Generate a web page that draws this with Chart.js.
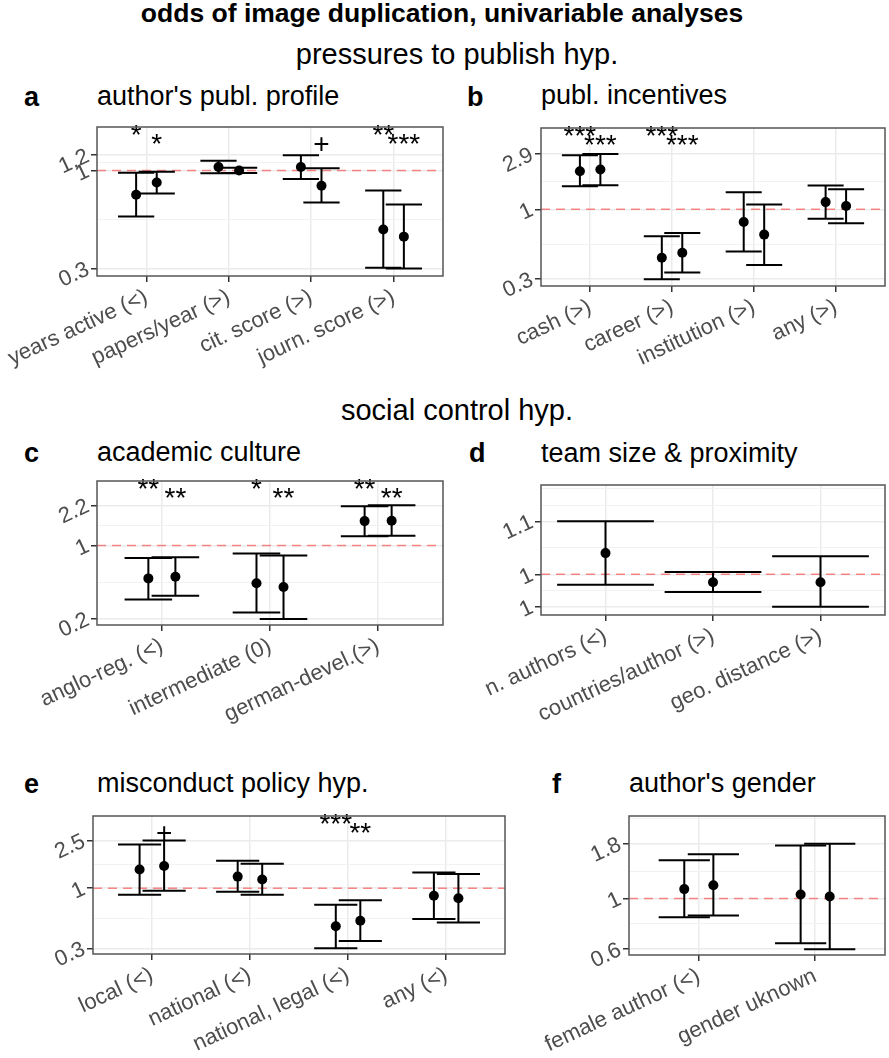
<!DOCTYPE html>
<html>
<head>
<meta charset="utf-8">
<script src="https://cdn.jsdelivr.net/npm/chart.js@4.4.1/dist/chart.umd.min.js"></script>
<style>
  body { margin: 0; background: #fff; width: 889px; height: 1058px; position: relative; overflow: hidden;
         font-family: "Liberation Sans", Arial, sans-serif; }
  .t { position: absolute; white-space: nowrap; color: #000; line-height: 1; }
  .ttl { font-size: 27px; }
  .lab { font-size: 27px; font-weight: bold; }
  .sub { left: 0; width: 914px; text-align: center; font-size: 29px; }
  canvas { position: absolute; }
</style>
</head>
<body>
<div class="t" style="left:0;width:884px;text-align:center;top:0px;font-size:26.5px;font-weight:bold">odds of image duplication, univariable analyses</div>
<div class="t sub" style="top:40px">pressures to publish hyp.</div>
<div class="t sub" style="top:396px">social control hyp.</div>

<div class="t lab" style="left:24px;top:84px">a</div>
<div class="t ttl" style="left:97px;top:83px">author's publ. profile</div>
<div class="t lab" style="left:467px;top:84px">b</div>
<div class="t ttl" style="left:541px;top:82px">publ. incentives</div>
<div class="t lab" style="left:24px;top:440px">c</div>
<div class="t ttl" style="left:97px;top:439px">academic culture</div>
<div class="t lab" style="left:469px;top:440px">d</div>
<div class="t ttl" style="left:541px;top:440px">team size &amp; proximity</div>
<div class="t lab" style="left:24px;top:771px">e</div>
<div class="t ttl" style="left:97px;top:770px">misconduct policy hyp.</div>
<div class="t lab" style="left:552px;top:771px">f</div>
<div class="t ttl" style="left:629px;top:770px">author's gender</div>

<canvas id="cA" width="448" height="260" style="left:0;top:122px"></canvas>
<canvas id="cB" width="440" height="269" style="left:450px;top:123px"></canvas>
<canvas id="cC" width="448" height="254" style="left:0;top:476px"></canvas>
<canvas id="cD" width="440" height="250" style="left:450px;top:480px"></canvas>
<canvas id="cE" width="510" height="247" style="left:0;top:811px"></canvas>
<canvas id="cF" width="360" height="247" style="left:530px;top:811px"></canvas>

<script>
const FONT = '"Liberation Sans", Arial, sans-serif';

// a: author's publication profile
const catsA = ["years active (<)", "papers/year (>)", "cit. score (>)", "journ. score (>)"];
const estA1 = [0.740, 1.045, 1.045, 0.482];
const loA1  = [0.566, 0.965, 0.901, 0.300];
const hiA1  = [0.972, 1.128, 1.208, 0.780];
const estA2 = [0.862, 1.000, 0.828, 0.441];
const loA2  = [0.752, 0.968, 0.672, 0.297];
const hiA2  = [0.984, 1.033, 1.028, 0.656];
const sigA1 = ["*", "", "", "**"];
const sigA2 = ["*", "", "+", "***"];

// b: publication incentives
const catsB = ["cash (>)", "career (>)", "institution (>)", "any (>)"];
const estB1 = [2.09, 0.391, 0.782, 1.149];
const loB1  = [1.56, 0.258, 0.441, 0.833];
const hiB1  = [2.85, 0.593, 1.388, 1.584];
const estB2 = [2.16, 0.430, 0.612, 1.065];
const loB2  = [1.59, 0.293, 0.340, 0.763];
const hiB2  = [2.92, 0.631, 1.099, 1.477];
const sigB1 = ["***", "***", "", ""];
const sigB2 = ["***", "***", "", ""];

// c: academic culture
const catsC = ["anglo-reg. (<)", "intermediate (0)", "german-devel.(>)"];
const estC1 = [0.520, 0.472, 1.618];
const loC1  = [0.343, 0.265, 1.197];
const hiC1  = [0.779, 0.852, 2.17];
const estC2 = [0.537, 0.438, 1.628];
const loC2  = [0.368, 0.233, 1.212];
const hiC2  = [0.789, 0.820, 2.21];
const sigC1 = ["**", "*", "**"];
const sigC2 = ["**", "**", "**"];

// d: team size & proximity
const catsD = ["n. authors (<)", "countries/author (>)", "geo. distance (>)"];
const estD1 = [1.027, 0.990, 0.990];
const loD1  = [0.987, 0.978, 0.960];
const hiD1  = [1.069, 1.003, 1.023];

// e: misconduct policy
const catsE = ["local (<)", "national (<)", "national, legal (<)", "any (<)"];
const estE1 = [1.432, 1.250, 0.482, 0.867];
const loE1  = [0.884, 0.934, 0.316, 0.555];
const hiE1  = [2.32, 1.693, 0.729, 1.354];
const estE2 = [1.533, 1.182, 0.535, 0.825];
const loE2  = [0.952, 0.884, 0.364, 0.519];
const hiE2  = [2.50, 1.601, 0.795, 1.313];
const sigE1 = ["", "", "***", ""];
const sigE2 = ["+", "", "**", ""];

// f: author's gender
const catsF = ["female author (<)", "gender uknown"];
const estF1 = [1.106, 1.043];
const loF1  = [0.817, 0.617];
const hiF1  = [1.508, 1.769];
const estF2 = [1.153, 1.021];
const loF2  = [0.832, 0.579];
const hiF2  = [1.61, 1.80];

// y axis ranges (odds ratio, log scale)
const limA = [0.271, 1.713];
const limB = [0.226, 4.83];
const limC = [0.2066, 3.58];
const limD = [0.953, 1.119];
const limE = [0.283, 4.0];
const limF = [0.544, 2.43];

const fmt = v => String(Math.round(v * 10) / 10);

const errPlugin = {
  id: 'errbars',
  beforeDatasetsDraw(chart) {
    const { ctx, chartArea: a, scales: { x, y } } = chart;
    ctx.save();
    // reference line at OR = 1
    const y1 = y.getPixelForValue(1);
    ctx.strokeStyle = 'rgba(255,0,0,0.45)';
    ctx.lineWidth = 1.5;
    ctx.setLineDash([9, 6]);
    ctx.beginPath(); ctx.moveTo(a.left, y1); ctx.lineTo(a.right, y1); ctx.stroke();
    ctx.setLineDash([]);
    ctx.strokeStyle = '#000';
    ctx.lineWidth = 2;
    chart.data.datasets.forEach(ds => {
      ds.data.forEach(p => {
        const px = x.getPixelForValue(p.x);
        const l = x.getPixelForValue(p.x - ds.cap), r = x.getPixelForValue(p.x + ds.cap);
        const yl = y.getPixelForValue(p.lo), yh = y.getPixelForValue(p.hi);
        ctx.beginPath();
        ctx.moveTo(l, yh); ctx.lineTo(r, yh);
        ctx.moveTo(px, yh); ctx.lineTo(px, yl);
        ctx.moveTo(l, yl); ctx.lineTo(r, yl);
        ctx.stroke();
      });
    });
    ctx.restore();
  },
  afterDatasetsDraw(chart) {
    const { ctx, chartArea: a, scales: { x } } = chart;
    ctx.save();
    ctx.fillStyle = '#000';
    ctx.font = '28px ' + FONT;
    ctx.textAlign = 'center';
    ctx.textBaseline = 'alphabetic';
    chart.data.datasets.forEach((ds, k) => {
      if (!ds.sig) return;
      ds.data.forEach((p, i) => {
        if (ds.sig[i]) ctx.fillText(ds.sig[i], x.getPixelForValue(p.x), a.top + (k === 0 ? 17 : 26));
      });
    });
    // panel border
    ctx.strokeStyle = '#555';
    ctx.lineWidth = 1.5;
    ctx.strokeRect(a.left, a.top, a.right - a.left, a.bottom - a.top);
    ctx.restore();
  }
};

function buildTicks(series, lim) {
  const allLo = series.flatMap(s => s.lo), allHi = series.flatMap(s => s.hi);
  const majors = [Math.min(...allLo), 1, Math.max(...allHi)];
  const lb = majors.map(Math.log10);
  const bd = lb[1] - lb[0];
  const ext = lb.slice();
  if (Math.log10(lim[0]) < lb[0]) ext.unshift(lb[0] - bd);
  if (Math.log10(lim[1]) > lb[2]) ext.push(lb[2] + bd);
  const minors = [];
  for (let i = 0; i < ext.length - 1; i++) minors.push((ext[i] + ext[i + 1]) / 2);
  ext.forEach(v => { if (!lb.includes(v)) minors.push(v); });
  const ticks = majors.map(v => ({ value: v, minor: false }));
  minors.map(v => Math.pow(10, v)).filter(v => v > lim[0] && v < lim[1])
    .forEach(v => ticks.push({ value: v, minor: true }));
  return ticks.sort((p, q) => p.value - q.value);
}

function panel(id, cats, series, sigs, lim, yw, xh) {
  const offs = series.length === 2 ? [-0.125, 0.125] : [0];
  const cap = series.length === 2 ? 0.22 : 0.45;
  const datasets = series.map((s, k) => ({
    data: s.est.map((v, i) => ({ x: i + 1 + offs[k], y: v, lo: s.lo[i], hi: s.hi[i] })),
    cap: cap,
    sig: sigs ? sigs[k] : null,
    backgroundColor: '#000',
    borderWidth: 0,
    pointRadius: 5,
    pointHoverRadius: 5
  }));
  const yTicks = buildTicks(series, lim);
  const tickFont = { family: FONT, size: 22 };
  new Chart(document.getElementById(id), {
    type: 'scatter',
    data: { datasets },
    options: {
      responsive: false,
      animation: false,
      devicePixelRatio: 1,
      events: [],
      layout: { padding: { top: 1, right: 2, left: 0, bottom: 0 } },
      plugins: { legend: { display: false }, tooltip: { enabled: false } },
      scales: {
        x: {
          type: 'linear',
          min: 0.4,
          max: cats.length + 0.6,
          afterBuildTicks: s => { s.ticks = cats.map((c, i) => ({ value: i + 1 })); },
          afterFit: s => { s.height = xh; s.paddingLeft = 0; s.paddingRight = 0; },
          ticks: { autoSkip: false, minRotation: 25, maxRotation: 25, padding: 2,
                   color: '#4D4D4D', font: tickFont, callback: v => cats[Math.round(v) - 1] },
          grid: { color: '#EBEBEB', lineWidth: 1.5, tickLength: 6, tickColor: '#333', tickWidth: 1.5 },
          border: { display: false }
        },
        y: {
          type: 'logarithmic',
          min: lim[0],
          max: lim[1],
          afterBuildTicks: s => { s.ticks = yTicks.map(t => ({ value: t.value, minor: t.minor })); },
          afterFit: s => { s.width = yw; s.paddingTop = 0; s.paddingBottom = 0; },
          ticks: { autoSkip: false, minRotation: 25, maxRotation: 25, padding: 3,
                   color: '#4D4D4D', font: tickFont,
                   callback: (v, i, t) => (t[i].minor ? '' : fmt(v)) },
          grid: {
            color: c => (c.tick && c.tick.minor ? '#F2F2F2' : '#EBEBEB'),
            lineWidth: c => (c.tick && c.tick.minor ? 1 : 1.5),
            tickLength: 6,
            tickColor: c => (c.tick && c.tick.minor ? 'rgba(0,0,0,0)' : '#333'),
            tickWidth: 1.5
          },
          border: { display: false }
        }
      }
    },
    plugins: [errPlugin]
  });
}

panel('cA', catsA,
  [{ est: estA1, lo: loA1, hi: hiA1 }, { est: estA2, lo: loA2, hi: hiA2 }],
  [sigA1, sigA2], limA, 97, 106);
panel('cB', catsB,
  [{ est: estB1, lo: loB1, hi: hiB1 }, { est: estB2, lo: loB2, hi: hiB2 }],
  [sigB1, sigB2], limB, 91, 106);
panel('cC', catsC,
  [{ est: estC1, lo: loC1, hi: hiC1 }, { est: estC2, lo: loC2, hi: hiC2 }],
  [sigC1, sigC2], limC, 97, 105);
panel('cD', catsD,
  [{ est: estD1, lo: loD1, hi: hiD1 }],
  null, limD, 91, 115);
panel('cE', catsE,
  [{ est: estE1, lo: loE1, hi: hiE1 }, { est: estE2, lo: loE2, hi: hiE2 }],
  [sigE1, sigE2], limE, 93, 104);
panel('cF', catsF,
  [{ est: estF1, lo: loF1, hi: hiF1 }, { est: estF2, lo: loF2, hi: hiF2 }],
  null, limF, 99, 103);
</script>
</body>
</html>
